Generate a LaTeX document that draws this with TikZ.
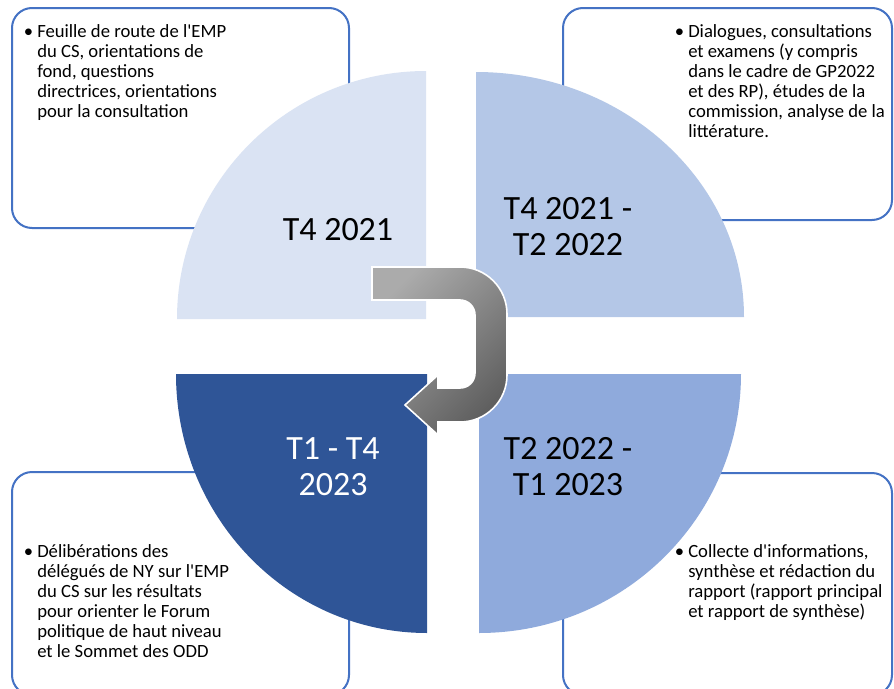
\documentclass[tikz,border=0pt]{standalone}
\usepackage{fontspec}
\setmainfont{Carlito}
\newcommand{\aps}{\textquotesingle}
\definecolor{qtlc}{HTML}{DAE3F3}
\definecolor{qtrc}{HTML}{B4C7E7}
\definecolor{qbrc}{HTML}{8FAADC}
\definecolor{qblc}{HTML}{2F5597}
\definecolor{boxc}{HTML}{4472C4}
\definecolor{arrA}{HTML}{ABABAB}
\definecolor{arrB}{HTML}{5F5F5F}
\begin{document}
\begin{tikzpicture}[x=0.75pt,y=-0.75pt,
  infobox/.style={draw=boxc, line width=1.5pt, rounded corners=15pt, fill=white},
  bullettext/.style={anchor=base west, inner sep=0pt, align=left, font=\fontsize{14pt}{15pt}\selectfont},
  biglabel/.style={anchor=base, inner sep=0pt, align=center, font=\fontsize{25.5pt}{27pt}\selectfont}]
\useasboundingbox (0,0) rectangle (894,689);
\clip (0,0) rectangle (894,689);
% boxes
\path[infobox] (12,8) rectangle (349,228);
\path[infobox] (563,8) rectangle (892,220);
\path[infobox] (12,472) rectangle (349,695);
\path[infobox] (563,473) rectangle (892,695);
% quarter circles
\fill[qtlc] (426,319) -- (177,319) .. controls (177,182) and (288.5,71) .. (426,71) -- cycle;
\fill[qtrc] (476,317) -- (476,72) .. controls (624,72) and (744,181.7) .. (744,317) -- cycle;
\fill[qbrc] (479,374) -- (741,374) .. controls (741,517) and (623.7,633) .. (479,633) -- cycle;
\fill[qblc] (427,374) -- (176,374) .. controls (176,517) and (288.4,633) .. (427,633) -- cycle;
% labels (base anchor = last line)
\node[biglabel] (qtl) at (338,240) {T4 2021};
\node[biglabel] (qtr) at (568,255) {T4 2021 -\\T2 2022};
\node[biglabel, text=white] (qbl) at (333,495) {T1 - T4\\2023};
\node[biglabel] (qbr) at (568,495) {T2 2022 -\\T1 2023};
% arrow
\shadedraw[draw=white, line width=1.2pt, top color=arrA, bottom color=arrB, shading angle=45]
  (372,267) -- (460,267) .. controls (486,267) and (507,288) .. (507,314)
  -- (507,375) .. controls (507,401) and (486,422) .. (460,422)
  -- (438,422) -- (438,435) -- (405,405) -- (438,375) -- (438,388)
  -- (460,388) .. controls (468.3,388) and (475,381.7) .. (475,373)
  -- (475,315) .. controls (475,306.7) and (468.3,300) .. (460,300)
  -- (372,300) -- cycle;
% texts (base anchor = last line)
\node[bullettext] (ttl) at (37,117) {\llap{\textbullet\hspace{3pt}}Feuille de route de l\aps EMP\\du CS, orientations de\\fond, questions\\directrices, orientations\\pour la consultation};
\node[bullettext] (ttr) at (688,137) {\llap{\textbullet\hspace{3pt}}Dialogues, consultations\\et examens (y compris\\dans le cadre de GP2022\\et des RP), études de la\\commission, analyse de la\\littérature.};
\node[bullettext] (tbl) at (37,657) {\llap{\textbullet\hspace{3pt}}Délibérations des\\délégués de NY sur l\aps EMP\\du CS sur les résultats\\pour orienter le Forum\\politique de haut niveau\\et le Sommet des ODD};
\node[bullettext] (tbr) at (688,617) {\llap{\textbullet\hspace{3pt}}Collecte d\aps informations,\\synthèse et rédaction du\\rapport (rapport principal\\et rapport de synthèse)};
\end{tikzpicture}
\end{document}
